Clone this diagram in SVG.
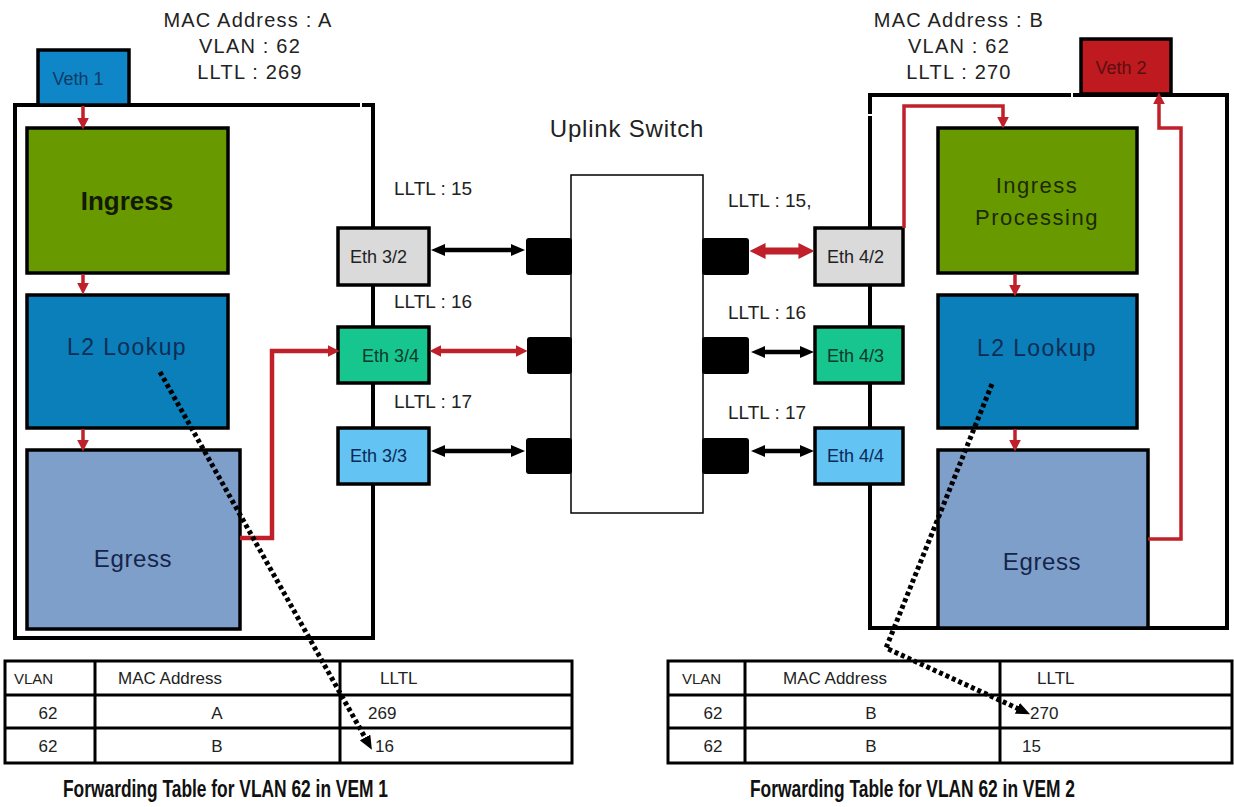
<svg xmlns="http://www.w3.org/2000/svg" width="1234" height="807" viewBox="0 0 1234 807">
<style>
text{font-family:"Liberation Sans",Arial,sans-serif;}
.frame{fill:none;stroke:#000;stroke-width:4;stroke-linecap:square;}
.box{stroke:#000;stroke-width:3.5;}
.eth{stroke:#000;stroke-width:3.5;}
.port{fill:#000;}
.red{fill:none;stroke:#C0202A;stroke-width:3.5;}
.red2{fill:none;stroke:#C0202A;stroke-width:4.5;}
.blk{fill:none;stroke:#000;stroke-width:4.5;}
.dot{fill:none;stroke:#000;stroke-width:5;stroke-dasharray:4 3;}
.lbl{font-size:20px;fill:#222;letter-spacing:1.2px;text-anchor:middle;}
.lltl{font-size:19px;fill:#222;}
.ethT{font-size:18px;}
.tbl{fill:none;stroke:#000;stroke-width:3;}
.tt{font-size:17px;fill:#222;}
.ttl{font-size:23px;font-weight:bold;fill:#111;}
</style>
<defs>
<marker id="rh" markerUnits="userSpaceOnUse" markerWidth="12" markerHeight="12" refX="2" refY="5" orient="auto-start-reverse" viewBox="0 0 10 10"><path d="M0,0 L10,5 L0,10 z" fill="#C0202A"/></marker>
<marker id="rhb" markerUnits="userSpaceOnUse" markerWidth="16" markerHeight="16" refX="4" refY="7" orient="auto-start-reverse" viewBox="0 0 14 14"><path d="M0,0 L14,7 L0,14 z" fill="#C0202A"/></marker>
<marker id="bh" markerUnits="userSpaceOnUse" markerWidth="14" markerHeight="12" refX="4" refY="6" orient="auto-start-reverse" viewBox="0 0 14 12"><path d="M0,0 L14,6 L0,12 z" fill="#000"/></marker>
<marker id="dh" markerUnits="userSpaceOnUse" markerWidth="14" markerHeight="12" refX="4" refY="6" orient="auto" viewBox="0 0 14 12"><path d="M0,0 L14,6 L0,12 z" fill="#000"/></marker>
</defs>
<rect width="1234" height="807" fill="#fff"/>

<g id="labels">
<text class="lbl" x="248" y="27">MAC Address : A</text>
<text class="lbl" x="250" y="53">VLAN : 62</text>
<text class="lbl" x="250" y="79">LLTL : 269</text>
<text class="lbl" x="959" y="27">MAC Address : B</text>
<text class="lbl" x="959" y="53">VLAN : 62</text>
<text class="lbl" x="959" y="79">LLTL : 270</text>
<text x="627" y="137" style="font-size:24px;fill:#222;letter-spacing:0.8px;text-anchor:middle">Uplink Switch</text>
<text class="lltl" x="394" y="195">LLTL : 15</text>
<text class="lltl" x="394" y="308">LLTL : 16</text>
<text class="lltl" x="394" y="408">LLTL : 17</text>
<text class="lltl" x="728" y="207">LLTL : 15,</text>
<text class="lltl" x="728" y="319">LLTL : 16</text>
<text class="lltl" x="728" y="419">LLTL : 17</text>
</g>

<g id="vem1">
<path class="frame" d="M137,105 H15 V638 H373 V105 H364"/>
<path class="frame" d="M141,105 H358"/>
</g>
<g id="vem2">
<path class="frame" d="M870,112 V95 H1069"/>
<path class="frame" d="M1075,95 H1227 V628 H870 V118"/>
</g>

<g id="veth1">
<rect class="box" x="38" y="50" width="91" height="55" fill="#0E86C7"/>
<text x="78" y="85" style="font-size:18px;fill:#123a66;text-anchor:middle">Veth 1</text>
</g>
<g id="ingress1">
<rect class="box" x="27" y="128" width="201" height="145" fill="#689A00"/>
<text x="127" y="210" style="font-size:26px;font-weight:bold;fill:#141a08;text-anchor:middle">Ingress</text>
</g>
<g id="l2lookup1">
<rect class="box" x="27" y="295" width="201" height="133" fill="#0A7FB9"/>
<text x="127" y="355" style="font-size:23px;fill:#0d2d55;text-anchor:middle;letter-spacing:1.4px">L2 Lookup</text>
</g>
<g id="egress1">
<rect class="box" x="27" y="450" width="213" height="179" fill="#7F9FCB"/>
<text x="133" y="567" style="font-size:24px;fill:#15254a;text-anchor:middle;letter-spacing:0.6px">Egress</text>
</g>

<g id="veth2">
<rect class="box" x="1081" y="39" width="90" height="55" fill="#BE1A1F"/>
<text x="1121" y="74" style="font-size:18px;fill:#5a0f10;text-anchor:middle">Veth 2</text>
</g>
<g id="ingress2">
<rect class="box" x="938" y="128" width="199" height="145" fill="#689A00"/>
<text x="1037" y="193" style="font-size:22px;fill:#1c2a05;text-anchor:middle;letter-spacing:1.5px">Ingress</text>
<text x="1037" y="225" style="font-size:22px;fill:#1c2a05;text-anchor:middle;letter-spacing:1.5px">Processing</text>
</g>
<g id="l2lookup2">
<rect class="box" x="938" y="295" width="199" height="133" fill="#0A7FB9"/>
<text x="1037" y="356" style="font-size:23px;fill:#0d2d55;text-anchor:middle;letter-spacing:1.4px">L2 Lookup</text>
</g>
<g id="egress2">
<rect class="box" x="938" y="450" width="210" height="178" fill="#7F9FCB"/>
<text x="1042" y="570" style="font-size:24px;fill:#15254a;text-anchor:middle;letter-spacing:0.6px">Egress</text>
</g>

<g id="eth32"><rect class="eth" x="338" y="228" width="91" height="57" fill="#DADADA"/><text class="ethT" x="350" y="263" fill="#222">Eth 3/2</text></g>
<g id="eth34"><rect class="eth" x="338" y="327" width="91" height="56" fill="#17C58E"/><text class="ethT" x="362" y="362" fill="#0d3a2a">Eth 3/4</text></g>
<g id="eth33"><rect class="eth" x="338" y="428" width="91" height="56" fill="#63C3F3"/><text class="ethT" x="350" y="462" fill="#0a2a55">Eth 3/3</text></g>
<g id="eth42"><rect class="eth" x="815" y="228" width="88" height="57" fill="#DADADA"/><text class="ethT" x="827" y="263" fill="#222">Eth 4/2</text></g>
<g id="eth43"><rect class="eth" x="815" y="327" width="88" height="56" fill="#17C58E"/><text class="ethT" x="827" y="362" fill="#0d3a2a">Eth 4/3</text></g>
<g id="eth44"><rect class="eth" x="815" y="428" width="88" height="56" fill="#63C3F3"/><text class="ethT" x="827" y="462" fill="#0a2a55">Eth 4/4</text></g>

<g id="uplink-switch">
<rect x="571" y="175" width="132" height="338" fill="#fff" stroke="#000" stroke-width="1.5"/>
<rect class="port" x="526" y="238" width="46" height="37" rx="3"/>
<rect class="port" x="527" y="337" width="45" height="37" rx="3"/>
<rect class="port" x="526" y="438" width="46" height="36" rx="3"/>
<rect class="port" x="702" y="238" width="47" height="37" rx="3"/>
<rect class="port" x="702" y="337" width="47" height="37" rx="3"/>
<rect class="port" x="702" y="438" width="47" height="36" rx="3"/>
</g>

<g id="connectors">
<line class="red" x1="83" y1="106" x2="83" y2="120" marker-end="url(#rh)"/>
<line class="red" x1="83" y1="274" x2="83" y2="285" marker-end="url(#rh)"/>
<line class="red" x1="83" y1="429" x2="83" y2="442" marker-end="url(#rh)"/>
<path class="red2" d="M240,538 H272 V351 H330" marker-end="url(#rh)"/>
<line class="blk" x1="441" y1="250" x2="515" y2="250" marker-start="url(#bh)" marker-end="url(#bh)"/>
<line class="red2" x1="439" y1="351" x2="518" y2="351" marker-start="url(#rh)" marker-end="url(#rh)"/>
<line class="blk" x1="441" y1="451" x2="515" y2="451" marker-start="url(#bh)" marker-end="url(#bh)"/>
<line class="red" style="stroke-width:7" x1="761" y1="251" x2="803" y2="251" marker-start="url(#rhb)" marker-end="url(#rhb)"/>
<line class="blk" x1="761" y1="352" x2="804" y2="352" marker-start="url(#bh)" marker-end="url(#bh)"/>
<line class="blk" x1="761" y1="451" x2="804" y2="451" marker-start="url(#bh)" marker-end="url(#bh)"/>
<path class="red" d="M904,228 V106 H1003 V119" marker-end="url(#rh)"/>
<line class="red" x1="1015" y1="274" x2="1015" y2="287" marker-end="url(#rh)"/>
<line class="red" x1="1015" y1="429" x2="1015" y2="442" marker-end="url(#rh)"/>
<path class="red" d="M1148,539 H1181 V128 H1159 V102" marker-end="url(#rh)"/>
<path class="dot" d="M160,372 L367,741" marker-end="url(#dh)"/>
<path class="dot" d="M992,384 L886,648 L1021,710" marker-end="url(#dh)"/>
</g>

<g id="table-vem1">
<rect class="tbl" x="5" y="661" width="567" height="102"/>
<path class="tbl" d="M5,695 H572 M5,728 H572 M95,661 V763 M340,661 V763"/>
<text class="tt" x="14" y="684" style="font-size:15px">VLAN</text>
<text class="tt" x="118" y="684">MAC Address</text>
<text class="tt" x="380" y="684">LLTL</text>
<text class="tt" x="48" y="719" text-anchor="middle">62</text>
<text class="tt" x="217" y="719" text-anchor="middle">A</text>
<text class="tt" x="368" y="719">269</text>
<text class="tt" x="48" y="752" text-anchor="middle">62</text>
<text class="tt" x="217" y="752" text-anchor="middle">B</text>
<text class="tt" x="375" y="752">16</text>
<text class="ttl" x="63" y="797" textLength="325" lengthAdjust="spacingAndGlyphs">Forwarding Table for VLAN 62 in VEM 1</text>
</g>

<g id="table-vem2">
<rect class="tbl" x="668" y="661" width="564" height="102"/>
<path class="tbl" d="M668,695 H1232 M668,728 H1232 M745,661 V763 M1000,661 V763"/>
<text class="tt" x="682" y="684" style="font-size:15px">VLAN</text>
<text class="tt" x="783" y="684">MAC Address</text>
<text class="tt" x="1037" y="684">LLTL</text>
<text class="tt" x="713" y="719" text-anchor="middle">62</text>
<text class="tt" x="871" y="719" text-anchor="middle">B</text>
<text class="tt" x="1030" y="719">270</text>
<text class="tt" x="713" y="752" text-anchor="middle">62</text>
<text class="tt" x="871" y="752" text-anchor="middle">B</text>
<text class="tt" x="1022" y="752">15</text>
<text class="ttl" x="750" y="797" textLength="325" lengthAdjust="spacingAndGlyphs">Forwarding Table for VLAN 62 in VEM 2</text>
</g>
</svg>
